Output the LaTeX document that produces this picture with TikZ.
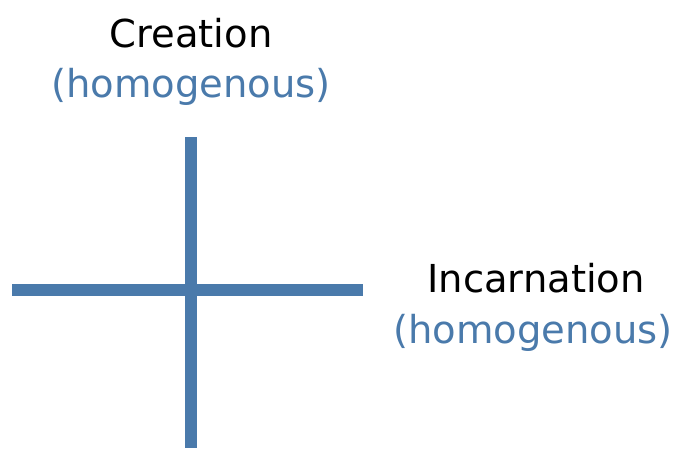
\documentclass[tikz,border=0pt]{standalone}
\usepackage{fontspec}
\setmainfont{DejaVu Sans}
\definecolor{steel}{HTML}{4A7AAB}
\begin{document}
\begin{tikzpicture}[x=1pt,y=-1pt,
  lbl/.style={font=\fontsize{38.5}{42}\selectfont, inner sep=0pt, anchor=base},
  bar/.style={draw=steel, line width=11.5pt}]
\useasboundingbox (0,0) rectangle (674,448);
\coordinate (vt) at (191,137);
\coordinate (vb) at (191,448);
\coordinate (hl) at (12,290);
\coordinate (hr) at (363,290);
\draw[bar] (vt) -- (vb);
\draw[bar] (hl) -- (hr);
\node[lbl] (c1) at (191,47) {Creation};
\node[lbl, text=steel] (c2) at (191,97) {(homogenous)};
\node[lbl] (i1) at (536,292) {Incarnation};
\node[lbl, text=steel] (i2) at (533,343) {(homogenous)};
\end{tikzpicture}
\end{document}
